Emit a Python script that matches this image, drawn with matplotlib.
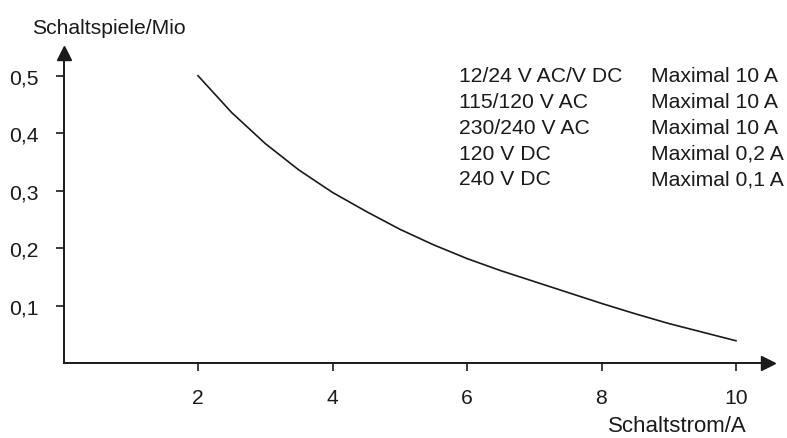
import matplotlib
matplotlib.use("Agg")
import matplotlib.pyplot as plt

# curve (current in A, switching cycles in millions)
strom = [2, 2.5, 3, 3.5, 4, 4.5, 5, 5.5, 6, 6.5, 7, 7.5, 8, 8.5, 9, 9.5, 10]
schaltspiele = [0.50, 0.436, 0.382, 0.336, 0.297, 0.264, 0.233, 0.206, 0.182,
                0.161, 0.142, 0.123, 0.104, 0.086, 0.069, 0.054, 0.039]

x_ticks = [2, 4, 6, 8, 10]
y_ticks = [0.1, 0.2, 0.3, 0.4, 0.5]
y_labels = ["0,1", "0,2", "0,3", "0,4", "0,5"]

spannung = ["12/24 V AC/V DC", "115/120 V AC", "230/240 V AC", "120 V DC", "240 V DC"]
maximal = ["Maximal 10 A", "Maximal 10 A", "Maximal 10 A", "Maximal 0,2 A", "Maximal 0,1 A"]

plt.rcParams['font.family'] = ['Liberation Sans', 'DejaVu Sans']
ink = '#1a1a1a'
fs = 15.2

fig = plt.figure(figsize=(7.87, 4.39), dpi=100)
# axes end a little before the arrow tips
x0, x1, yb, yt = 63.5, 768, 364.2, 54
ax = fig.add_axes([x0/787, 1-yb/439, (x1-x0)/787, (yb-yt)/439])

ax.plot(strom, schaltspiele, c=ink, lw=1.2)

ax.set_xlim(0, (x1-x0)/67.25)
ax.set_ylim(0, (yb-yt)/575)

# only left and bottom axis, with arrow heads
for s in ['top', 'right']:
    ax.spines[s].set_visible(False)
for s in ['left', 'bottom']:
    ax.spines[s].set_linewidth(1.4)
    ax.spines[s].set_color(ink)
ax.plot(1, 0, '>', ms=10, c=ink, transform=ax.transAxes, clip_on=False)
ax.plot(0, 1, '^', ms=10, c=ink, transform=ax.transAxes, clip_on=False)

ax.set_xticks(x_ticks)
ax.set_yticks(y_ticks, y_labels)
ax.tick_params(axis='both', direction='out', length=6, width=1.2, color=ink,
               labelsize=fs, labelcolor=ink)
ax.tick_params(axis='x', pad=12)
ax.tick_params(axis='y', pad=12)

# axis titles
fig.text(32/787, 1-34/439, 'Schaltspiele/Mio', fontsize=fs, color=ink,
         ha='left', va='baseline')
fig.text(747/787, 1-432/439, 'Schaltstrom/A', fontsize=16, color=ink,
         ha='right', va='baseline')

# table of voltages in the upper right
for i in range(len(spannung)):
    yy = 1 - (76.7 + i*25.8)/439
    fig.text(459/787, yy, spannung[i], fontsize=fs, color=ink, ha='left', va='center')
    fig.text(651/787, yy, maximal[i], fontsize=fs, color=ink, ha='left', va='center')

plt.savefig('out.png', dpi=100)
